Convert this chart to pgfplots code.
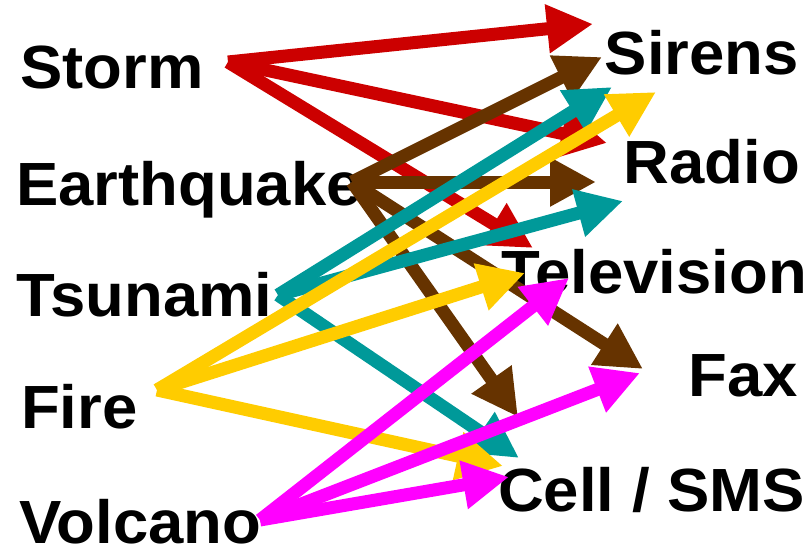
\documentclass[border=0pt]{standalone}
\usepackage{pgfplots}
\pgfplotsset{compat=1.18}
\usetikzlibrary{arrows.meta}
\usepackage{fontspec}
\setmainfont{Liberation Sans}
\newfontfamily\labfont[FakeStretch=1.04]{Liberation Sans}
\definecolor{cred}{RGB}{204,0,0}
\definecolor{cbrown}{RGB}{102,51,0}
\definecolor{cteal}{RGB}{0,153,153}
\definecolor{cyellow}{RGB}{255,204,0}
\definecolor{cmag}{RGB}{255,0,255}
\tikzset{lab/.style={inner sep=0pt, font=\labfont\bfseries\fontsize{61bp}{61bp}\selectfont}}
\begin{document}
\begin{tikzpicture}
\begin{axis}[
  scale only axis, width=808bp, height=549bp,
  xmin=0, xmax=808, ymin=0, ymax=549, y dir=reverse,
  hide axis, clip=false,
  every axis plot/.append style={line width=13bp, -{Triangle[length=46bp,width=46bp]}},
]
% labels
\node[lab, anchor=base west] at (axis cs:20,89) {Storm};
\node[lab, anchor=base west] at (axis cs:16,205.5) {Earthquake};
\node[lab, anchor=base west] at (axis cs:16,316) {Tsunami};
\node[lab, anchor=base west] at (axis cs:21,428) {Fire};
\node[lab, anchor=base west] at (axis cs:19,543) {Volcano};
\node[lab, anchor=base east] at (axis cs:799,75) {Sirens};
\node[lab, anchor=base east] at (axis cs:800,183) {Radio};
\node[lab, anchor=base east] at (axis cs:807,293) {Television};
\node[lab, anchor=base east] at (axis cs:798,396) {Fax};
\node[lab, anchor=base east] at (axis cs:805,511) {Cell / SMS};
% Storm
\addplot[cred] coordinates {(228,62) (593,24)};
\addplot[cred] coordinates {(228,62) (607,143)};
\addplot[cred] coordinates {(228,62) (533,248)};
% Earthquake
\addplot[cbrown] coordinates {(352,182) (602,57)};
\addplot[cbrown] coordinates {(352,182) (596,182)};
\addplot[cbrown] coordinates {(352,182) (643,369)};
\addplot[cbrown] coordinates {(352,182) (518,417)};
% Tsunami
\addplot[cteal] coordinates {(278,295) (612,87)};
\addplot[cteal] coordinates {(278,295) (623,201)};
\addplot[cteal] coordinates {(278,295) (519,458)};
% Fire
\addplot[cyellow] coordinates {(157,390) (656,92)};
\addplot[cyellow] coordinates {(157,390) (525,273)};
\addplot[cyellow] coordinates {(157,390) (503,466)};
% Volcano
\addplot[cmag] coordinates {(260,520) (569,278)};
\addplot[cmag] coordinates {(260,520) (640,373)};
\addplot[cmag] coordinates {(260,520) (509,477)};
\end{axis}
\pgfresetboundingbox
\path (current axis.south west) rectangle (current axis.north east);
\end{tikzpicture}
\end{document}
